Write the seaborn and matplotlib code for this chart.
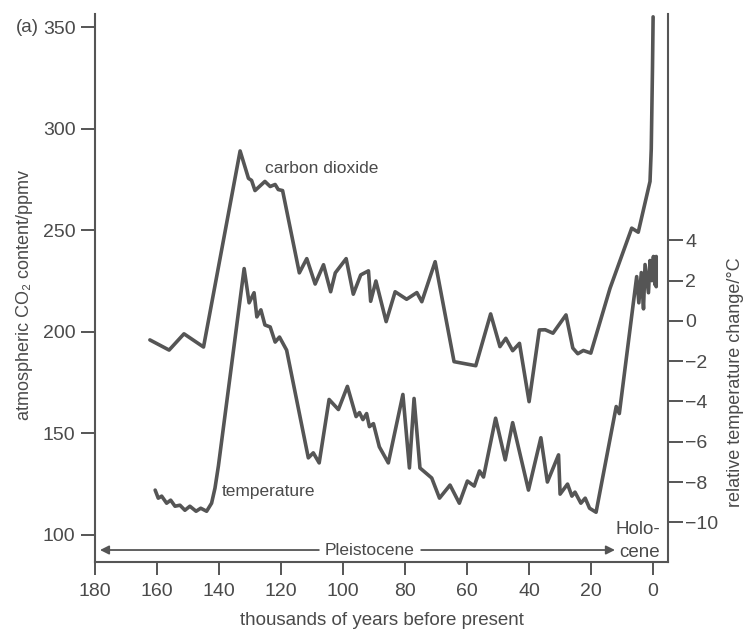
import matplotlib
matplotlib.use("Agg")
import matplotlib.pyplot as plt
import seaborn as sns
import pandas as pd

# ---- data ----
co2_kyr = [162.3, 156.1, 151.3, 145.0, 133.2, 130.5, 129.5, 128.4, 125.2, 123.5,
           121.9, 120.9, 119.5, 114.1, 111.7, 109.0, 106.3, 104.0, 102.5, 99.0,
           96.7, 94.3, 91.8, 91.1, 89.4, 86.1, 83.2, 79.5, 76.2, 74.6,
           70.3, 64.2, 57.2, 52.4, 49.4, 47.5, 45.3, 43.1, 40.0, 36.7,
           34.8, 32.3, 28.1, 25.9, 24.3, 22.5, 20.1, 13.9, 6.9, 4.8,
           1.0, 0.6, 0.2, 0.0]
co2_ppm = [196, 191, 199, 192.5, 289, 275.5, 274.5, 269.5, 274, 271.5,
           272.5, 270, 269.5, 229, 236, 223.5, 233, 219.7, 229, 236,
           218.5, 228, 230, 215, 225, 205, 219.7, 216, 219.3, 214.8,
           234.5, 185.3, 183.3, 208.8, 192.7, 196.8, 190.7, 194.3, 165.6, 200.9,
           201, 199.3, 208.3, 192, 189.2, 190.8, 189.5, 221.4, 251, 249,
           274, 290, 330, 355]

temp_kyr = [160.6, 159.6, 158.5, 156.9, 155.6, 154.2, 152.6, 151.0, 149.4, 147.4,
            145.9, 144.0, 142.4, 141.3, 140.2, 131.9, 130.9, 130.3, 128.7, 127.8,
            126.5, 125.2, 123.5, 121.9, 120.5, 118.2, 111.2, 109.6, 107.7, 104.5,
            101.5, 98.6, 95.8, 94.7, 93.6, 92.4, 91.5, 90.2, 88.3, 85.4,
            80.7, 78.6, 77.1, 75.2, 71.4, 68.9, 65.5, 62.5, 59.9, 57.7,
            56.0, 54.7, 50.8, 47.7, 45.3, 40.2, 36.2, 34.1, 30.5, 30.0,
            27.6, 26.2, 25.2, 23.3, 21.9, 20.5, 18.4, 11.9, 10.9, 5.3,
            4.6, 3.8, 3.1, 2.6, 1.5, 1.0, 0.4, -0.1, -0.6, -1.0, -1.0]
temp_c = [-8.4, -8.8, -8.7, -9.05, -8.9, -9.2, -9.15, -9.4, -9.2, -9.45,
          -9.3, -9.45, -9.05, -8.3, -7.2, 2.6, 1.55, 0.9, 1.4, 0.2,
          0.55, -0.2, -0.3, -1.05, -0.8, -1.45, -6.8, -6.55, -7.05, -3.9,
          -4.4, -3.25, -4.75, -4.55, -4.9, -4.6, -5.25, -5.1, -6.25, -7.05,
          -3.65, -7.3, -3.85, -7.3, -7.8, -8.8, -8.15, -9.05, -7.95, -8.2,
          -7.45, -7.75, -4.83, -6.9, -5.05, -8.4, -5.8, -8.0, -6.65, -8.6,
          -8.1, -8.7, -8.5, -9.05, -8.8, -9.3, -9.5, -4.25, -4.6, 2.2,
          0.9, 2.4, 0.6, 2.8, 1.4, 3.0, 2.0, 3.2, 1.8, 3.2, 1.7]

x_ticks = [180, 160, 140, 120, 100, 80, 60, 40, 20, 0]
co2_ticks = [100, 150, 200, 250, 300, 350]
temp_ticks = [-10, -8, -6, -4, -2, 0, 2, 4]

co2_df = pd.DataFrame({"kyr": co2_kyr, "ppm": co2_ppm})
temp_df = pd.DataFrame({"kyr": temp_kyr, "temp": temp_c})

# ---- style ----
sns.set_style("ticks")
FAM = ["Liberation Sans", "DejaVu Sans"]
plt.rcParams["font.family"] = FAM
INK = "#555555"
TXT = "#4a4a4a"
plt.rcParams.update({
    "axes.edgecolor": INK, "xtick.color": INK, "ytick.color": INK,
    "xtick.labelcolor": TXT, "ytick.labelcolor": TXT, "text.color": TXT,
    "axes.labelcolor": TXT,
})

fig = plt.figure(figsize=(7.43, 6.30), dpi=100)
ax = fig.add_axes([95 / 743, 68 / 630, 573 / 743, 548 / 630])
ax2 = ax.twinx()

sns.lineplot(data=co2_df, x="kyr", y="ppm", ax=ax, sort=False, estimator=None,
             color=INK, lw=2.6)
sns.lineplot(data=temp_df, x="kyr", y="temp", ax=ax2, sort=False, estimator=None,
             color=INK, lw=2.6)

ax.set_xlim(180, -4.8)
ax.set_ylim(86.7, 356.4)
ax2.set_ylim(-11.97, 15.24)

ax.set_xticks(x_ticks)
ax.set_yticks(co2_ticks)
ax2.set_yticks(temp_ticks)

for a in (ax, ax2):
    a.spines["top"].set_visible(False)
    for s in a.spines.values():
        s.set_linewidth(1.5)
        s.set_color(INK)
ax2.spines["left"].set_visible(False)
ax2.spines["bottom"].set_visible(False)
ax.spines["right"].set_visible(False)

ax.tick_params(axis="x", length=9, width=1.4, pad=6, labelsize=14)
ax.tick_params(axis="y", length=10, width=1.4, pad=4, labelsize=14)
ax2.tick_params(axis="y", length=11, width=1.4, pad=1.5, labelsize=14)

ax.set_xlabel("thousands of years before present", fontsize=13.5, labelpad=9)
ax.set_ylabel("")
ax2.set_ylabel("")
fig.text(25 / 743, 1 - 295 / 630, "atmospheric CO\u2082 content/ppmv", rotation=90,
         ha="center", va="center", fontsize=13, family=FAM)
fig.text(735 / 743, 1 - 382 / 630, "relative temperature change/\u00b0C", rotation=90,
         ha="center", va="center", fontsize=13, family=FAM)
fig.text(27 / 743, 1 - 27 / 630, "(a)", ha="center", va="center", fontsize=13.5,
         family=FAM)

ax.text(125.2, 280.6, "carbon dioxide", ha="left", va="center", fontsize=12.5)
ax.text(139.0, 121.2, "temperature", ha="left", va="center", fontsize=12.5)
ax.text(91.3, 92.6, "Pleistocene", ha="center", va="center", fontsize=12.5)
ax.text(-2.3, 97.0, "Holo-\ncene", ha="right", va="center", fontsize=13.5,
        linespacing=1.45)

arrow = dict(arrowstyle="-|>", color=INK, lw=1.3, mutation_scale=13,
             shrinkA=0, shrinkB=0)
ax.annotate("", xy=(178.4, 92.6), xytext=(107.8, 92.6), arrowprops=arrow)
ax.annotate("", xy=(12.3, 92.6), xytext=(74.8, 92.6), arrowprops=arrow)

fig.savefig("out.png", dpi=100)
